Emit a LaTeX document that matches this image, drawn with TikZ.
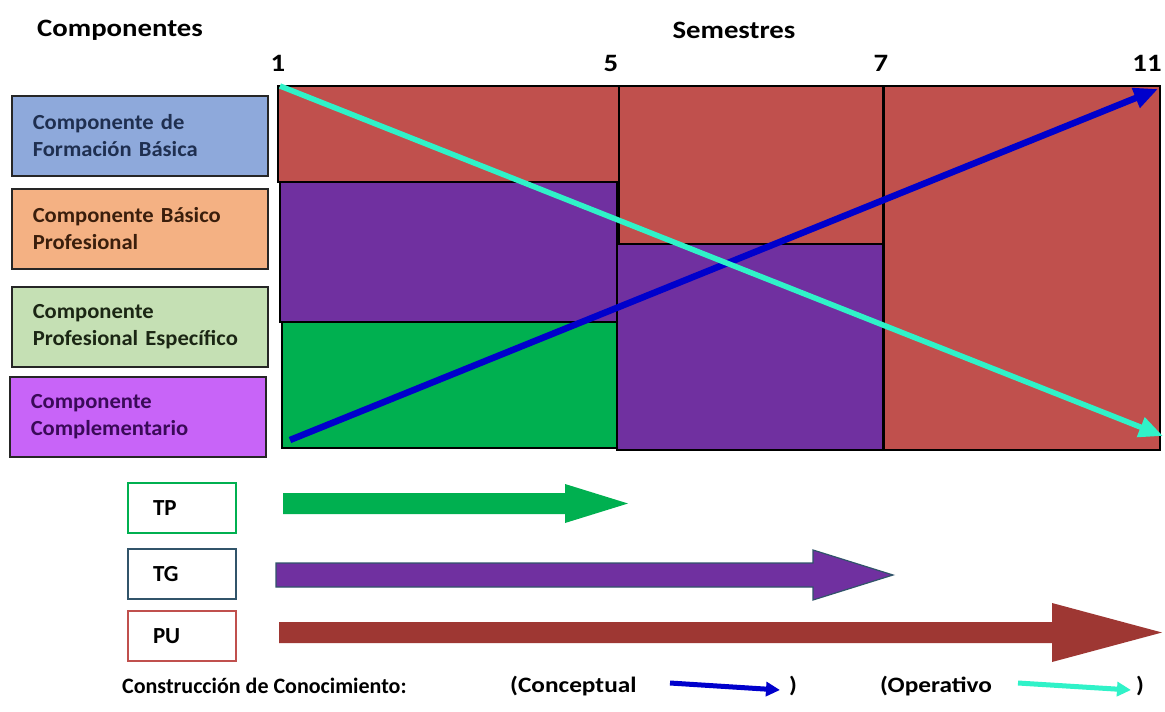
\documentclass[tikz,border=0pt]{standalone}
\usepackage{fontspec}
\setmainfont{Carlito}
\newfontfamily\widefont[FakeStretch=1.15]{Carlito}
\newfontfamily\boxfont[FakeStretch=1.05]{Carlito}
\usetikzlibrary{arrows.meta}
\definecolor{cred}{HTML}{C0504D}
\definecolor{cpurple}{HTML}{7030A0}
\definecolor{cgreen}{HTML}{00B050}
\definecolor{cbluebox}{HTML}{8EA9DB}
\definecolor{corange}{HTML}{F4B183}
\definecolor{clgreen}{HTML}{C5E0B4}
\definecolor{cviolet}{HTML}{C864F8}
\definecolor{tblue}{HTML}{1F2F50}
\definecolor{tbrown}{HTML}{3A1E0C}
\definecolor{tgreen}{HTML}{1B2614}
\definecolor{tviolet}{HTML}{3A0A58}
\definecolor{cconc}{HTML}{0000CC}
\definecolor{coper}{HTML}{30F2C8}
\definecolor{cslate}{HTML}{31546A}
\definecolor{cpu}{HTML}{9E3733}
\tikzset{
  cell/.style={draw=black, line width=1.2pt},
  compbox/.style={draw=black!85, line width=1.5pt, minimum height=80pt, text width=214pt,
     inner xsep=21pt, inner ysep=0pt, align=left, font=\boxfont\fontsize{21.5}{27}\selectfont\bfseries},
  tbox/.style={line width=2pt, minimum height=50pt, text width=58pt, inner xsep=25pt,
     inner ysep=0pt, align=left, font=\fontsize{23}{25}\selectfont\bfseries},
  hdr/.style={font=\widefont\fontsize{25}{30}\selectfont\bfseries, inner sep=0pt},
  num/.style={font=\widefont\fontsize{25}{30}\selectfont\bfseries, inner sep=0pt},
  legend/.style={font=\fontsize{22}{26}\selectfont\bfseries, inner sep=0pt, anchor=west},
  legendw/.style={font=\widefont\fontsize{22}{26}\selectfont\bfseries, inner sep=0pt, anchor=west},
  conc/.style={draw=cconc, line width=6.5pt, -{Triangle[length=24pt,width=20pt]}},
  oper/.style={draw=coper, line width=5.5pt, -{Triangle[length=24pt,width=20pt]}},
  concsmall/.style={draw=cconc, line width=5pt, -{Triangle[length=14pt,width=14pt]}},
  opersmall/.style={draw=coper, line width=5pt, -{Triangle[length=14pt,width=14pt]}},
}
\begin{document}
\begin{tikzpicture}[x=1pt,y=-1pt]
\useasboundingbox (0,0) rectangle (1165,712);
\fill[white] (0,0) rectangle (1165,712);

% headers
\node[hdr] (hcomp) at (120,30) {Componentes};
\node[hdr] (hsem) at (734,30) {Semestres};
\node[num] (n1) at (278,63) {1};
\node[num] (n5) at (611,63) {5};
\node[num] (n7) at (881,63) {7};
\node[num] (n11) at (1147,63) {11};

% component boxes
\node[compbox, fill=cbluebox, text=tblue, anchor=north west] (cb1) at (11,95) {Componente de\\Formación Básica};
\node[compbox, fill=corange, text=tbrown, anchor=north west] (cb2) at (11,188) {Componente Básico\\Profesional};
\node[compbox, fill=clgreen, text=tgreen, anchor=north west] (cb3) at (11,286) {Componente\\Profesional Específico};
\node[compbox, fill=cviolet, text=tviolet, anchor=north west] (cb4) at (9,376) {Componente\\Complementario};

% chart cells
\draw[cell, fill=cred] (278,86) rectangle (619,182);
\draw[cell, fill=cpurple] (280,182) rectangle (617,322);
\draw[cell, fill=cgreen] (282,322) rectangle (617,448);
\draw[cell, fill=cred] (619,86) rectangle (883,244);
\draw[cell, fill=cpurple] (617,244) rectangle (883,450);
\draw[cell, fill=cred] (883,86) rectangle (1160,450);
\draw[line width=3pt] (883,86) -- (883,450);

% knowledge construction lines
\coordinate (cS) at (290,440);
\coordinate (cE) at (1158,89);
\coordinate (oS) at (280,86);
\coordinate (oE) at (1163,436);
\draw[conc] (cS) -- (cE);
\draw[oper] (oS) -- (oE);

% TP / TG / PU boxes
\node[tbox, draw=cgreen, anchor=north west] (tp) at (127,482) {TP};
\node[tbox, draw=cslate, anchor=north west] (tg) at (127,548) {TG};
\node[tbox, draw=cred, anchor=north west] (pu) at (127,610) {PU};

% block arrows
\fill[cgreen] (283,493) -- (565,493) -- (565,484) -- (628,503.5) -- (565,523) -- (565,514) -- (283,514) -- cycle;
\filldraw[fill=cpurple, draw=cslate, line width=1.2pt] (276,563) -- (813,563) -- (813,550) -- (893,575) -- (813,600) -- (813,587) -- (276,587) -- cycle;
\fill[cpu] (279,622) -- (1052,622) -- (1052,603) -- (1162,632.5) -- (1052,662) -- (1052,643) -- (279,643) -- cycle;

% legend
\node[legend] (lcc) at (122,686) {Construcción de Conocimiento:};
\node[legendw] (lconc) at (510,686) {(Conceptual};
\coordinate (lcs) at (670,683);
\coordinate (lce) at (780,690);
\draw[concsmall] (lcs) -- (lce);
\node[legendw] (lcp) at (789,686) {)};
\node[legendw] (loper) at (880,686) {(Operativo};
\coordinate (los) at (1018,683);
\coordinate (loe) at (1131,690);
\draw[opersmall] (los) -- (loe);
\node[legendw] (lop) at (1136,686) {)};
\end{tikzpicture}
\end{document}
